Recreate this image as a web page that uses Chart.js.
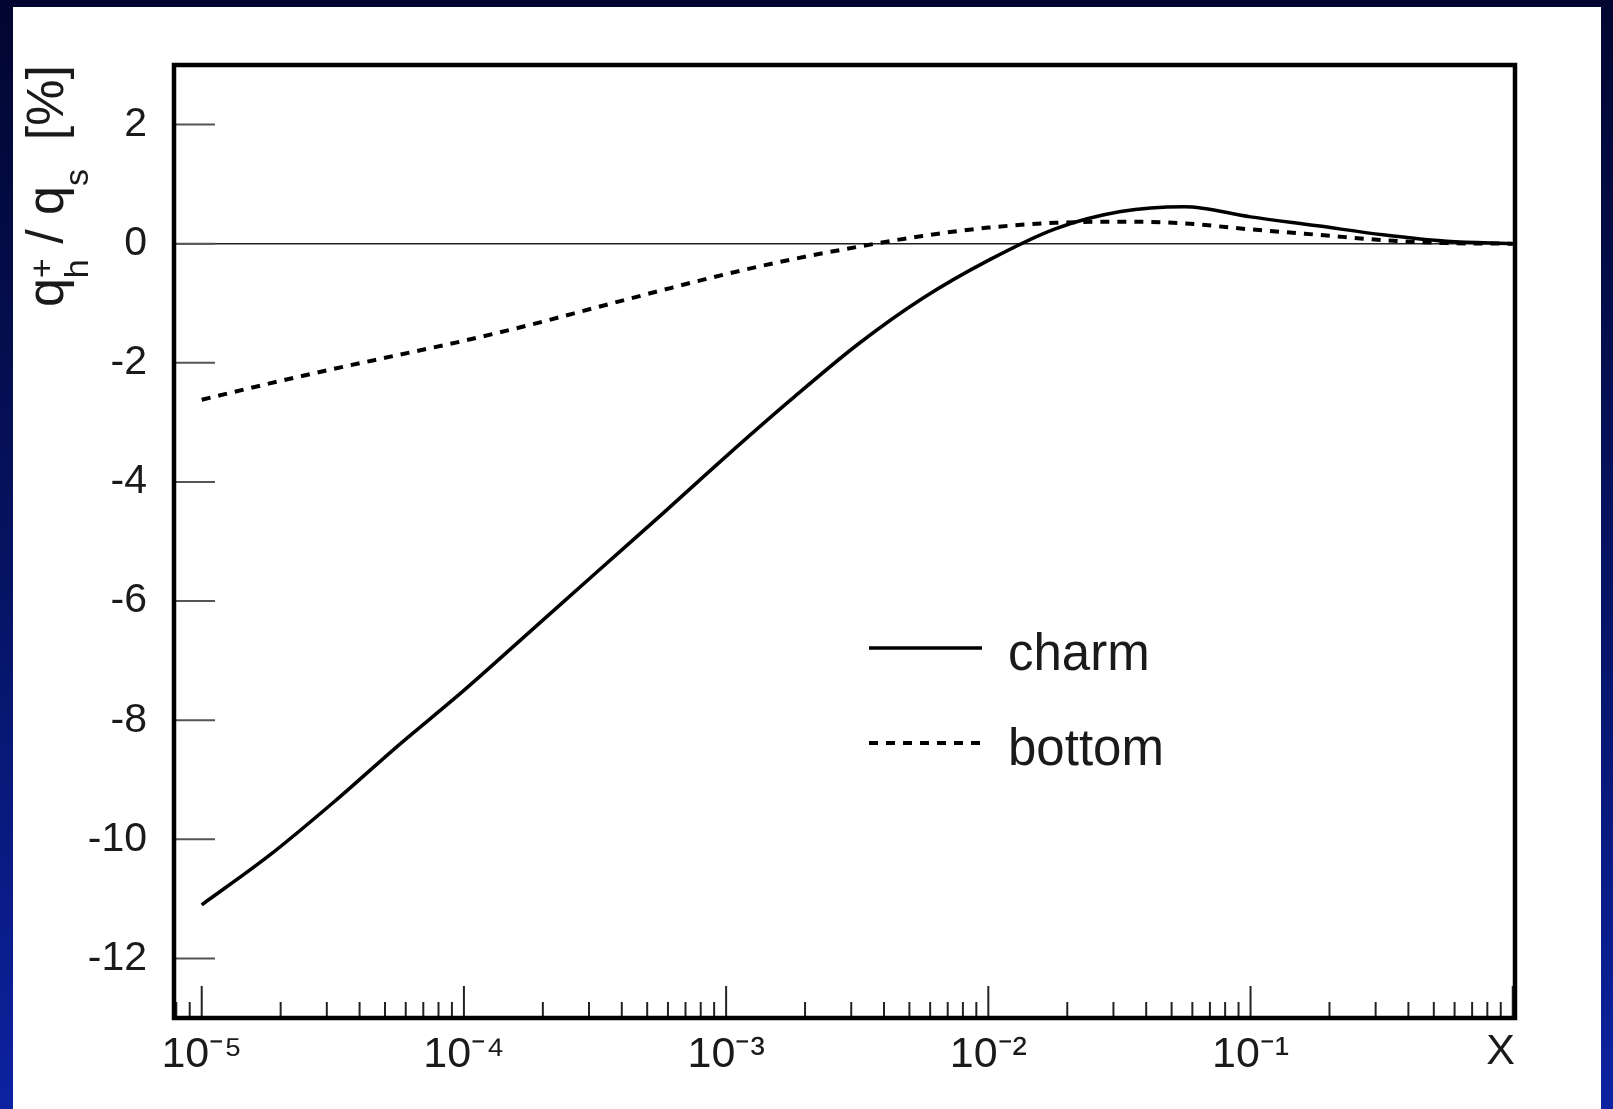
<!DOCTYPE html>
<html>
<head>
<meta charset="utf-8">
<script src="https://cdn.jsdelivr.net/npm/chart.js@4.4.1/dist/chart.umd.min.js"></script>
<style>
    html, body { margin: 0; padding: 0; }
    body {
        width: 1613px; height: 1109px; overflow: hidden; position: relative;
        background: linear-gradient(to bottom, #020630 0%, #061466 55%, #0c22a0 100%);
    }
    #panel { position: absolute; left: 13px; top: 7px; width: 1588px; height: 1102px; background: #fff; }
    #chart { display: block; }
</style>
</head>
<body>
<div id="panel"><canvas id="chart" width="1588" height="1102"></canvas></div>
<script>
// values
const xValues = [1e-5, 1.8e-5, 3.2e-5, 5.6e-5, 1e-4, 1.8e-4, 3.2e-4, 5.6e-4, 1e-3, 1.8e-3, 3.2e-3, 5.6e-3,
                 1e-2, 1.8e-2, 3.2e-2, 5.6e-2, 0.1, 0.18, 0.32, 0.56, 1.0];
const charmValues = [-11.1, -10.28, -9.37, -8.43, -7.5, -6.5, -5.52, -4.57, -3.57, -2.59, -1.68, -0.92,
                     -0.28, 0.25, 0.54, 0.62, 0.45, 0.30, 0.15, 0.04, 0.0];
const bottomValues = [-2.62, -2.35, -2.10, -1.87, -1.63, -1.36, -1.07, -0.79, -0.51, -0.26, -0.05, 0.13,
                      0.27, 0.35, 0.37, 0.34, 0.24, 0.15, 0.06, 0.01, 0.0];
const seriesNames = ['charm', 'bottom'];

const yTicks = [-12, -10, -8, -6, -4, -2, 0, 2];
const xTicks = [1e-5, 1e-4, 1e-3, 1e-2, 1e-1];
const xTickLabels = ['10⁻⁵', '10⁻⁴', '10⁻³', '10⁻²', '10⁻¹'];

var fontFamily = '"Liberation Sans", Arial, Helvetica, sans-serif';

function toPoints(values) {
    return values.map(function(v, i) { return { x: xValues[i], y: v }; });
}

// ticks drawn on the inside of the frame, then the frame itself
var frameTicks = {
    id: 'frameTicks',
    afterDatasetsDraw: function(chart) {
        var ctx = chart.ctx, a = chart.chartArea;
        var xs = chart.scales.x, ys = chart.scales.y;
        ctx.save();
        ctx.lineWidth = 2;
        ctx.strokeStyle = '#555';
        yTicks.forEach(function(v) {
            var py = ys.getPixelForValue(v);
            ctx.beginPath(); ctx.moveTo(a.left, py); ctx.lineTo(a.left + 41, py); ctx.stroke();
        });
        ctx.strokeStyle = '#222';
        for (var e = -6; e <= 0; e++) {
            for (var m = 1; m <= 9; m++) {
                var v = m * Math.pow(10, e);
                if (v < xs.min || v > xs.max) continue;
                var px = xs.getPixelForValue(v);
                var len = m === 1 ? 32 : 16;
                ctx.beginPath(); ctx.moveTo(px, a.bottom); ctx.lineTo(px, a.bottom - len); ctx.stroke();
            }
        }
        ctx.strokeStyle = '#000';
        ctx.lineWidth = 4.5;
        ctx.strokeRect(a.left, a.top, a.right - a.left, a.bottom - a.top);
        ctx.restore();
    }
};

// legend sitting inside the plot
var insideLegend = {
    id: 'insideLegend',
    afterDatasetsDraw: function(chart) {
        var ctx = chart.ctx, a = chart.chartArea;
        ctx.save();
        chart.data.datasets.forEach(function(ds, i) {
            var y = a.top + 583 + i * 95;
            ctx.strokeStyle = ds.borderColor;
            ctx.lineWidth = ds.borderWidth;
            ctx.setLineDash(ds.borderDash || []);
            ctx.beginPath(); ctx.moveTo(a.left + 695, y); ctx.lineTo(a.left + 808, y); ctx.stroke();
            ctx.setLineDash([]);
            ctx.fillStyle = '#1a1a1a';
            ctx.font = '51px ' + fontFamily;
            ctx.textBaseline = 'alphabetic';
            ctx.fillText(ds.label, a.left + 834, y + 22);
        });
        ctx.restore();
    }
};

// rotated y title with sub- and superscripts
var yTitle = {
    id: 'yTitle',
    afterDraw: function(chart) {
        var ctx = chart.ctx, a = chart.chartArea;
        var big = '52px ' + fontFamily, small = '34px ' + fontFamily;
        ctx.save();
        ctx.fillStyle = '#1a1a1a';
        ctx.font = big;
        var wq = ctx.measureText('q').width;
        var wSlash = ctx.measureText(' / ').width;
        var wTail = ctx.measureText('  [%]').width;
        ctx.font = small;
        var wStack = Math.max(ctx.measureText('h').width, ctx.measureText('+').width);
        var ws = ctx.measureText('s').width;
        var total = wq + wStack + wSlash + wq + ws + wTail;
        ctx.translate(50, a.top + total);
        ctx.rotate(-Math.PI / 2);
        ctx.textBaseline = 'alphabetic';
        var x = 0;
        ctx.font = big; ctx.fillText('q', x, 0); x += wq;
        ctx.font = small; ctx.fillText('+', x, -10); ctx.fillText('h', x, 25); x += wStack;
        ctx.font = big; ctx.fillText(' / ', x, 0); x += wSlash;
        ctx.fillText('q', x, 0); x += wq;
        ctx.font = small; ctx.fillText('s', x, 25); x += ws;
        ctx.font = big; ctx.fillText('  [%]', x, 0);
        ctx.restore();
    }
};

var ctx = document.getElementById('chart').getContext('2d');
var myChart = new Chart(ctx, {
    type: 'line',
    data: {
        datasets: [
            { label: seriesNames[0], data: toPoints(charmValues), borderColor: '#000', borderWidth: 3.5,
              cubicInterpolationMode: 'monotone' },
            { label: seriesNames[1], data: toPoints(bottomValues), borderColor: '#000', borderWidth: 4,
              borderDash: [9, 8], cubicInterpolationMode: 'monotone' }
        ]
    },
    options: {
        responsive: false,
        animation: false,
        layout: { padding: { left: 0, top: 58, right: 86, bottom: 0 } },
        elements: { point: { radius: 0 } },
        plugins: { legend: { display: false }, tooltip: { enabled: false } },
        scales: {
            x: {
                type: 'logarithmic',
                min: 7.84e-6,
                max: 1.02,
                grid: { display: false, drawTicks: false },
                border: { display: false },
                afterBuildTicks: function(scale) {
                    scale.ticks = xTicks.map(function(v) { return { value: v }; });
                },
                afterFit: function(scale) { scale.height = 91; },
                ticks: {
                    padding: 11,
                    color: '#1a1a1a',
                    maxRotation: 0,
                    autoSkip: false,
                    font: { size: 43, family: fontFamily },
                    callback: function(value) {
                        var i = xTicks.indexOf(value);
                        return i >= 0 ? xTickLabels[i] : '';
                    }
                },
                title: {
                    display: true,
                    text: 'X',
                    align: 'end',
                    color: '#1a1a1a',
                    font: { size: 43, family: fontFamily },
                    padding: { top: 0, bottom: 31 }
                }
            },
            y: {
                min: -13,
                max: 3,
                afterBuildTicks: function(scale) {
                    scale.ticks = yTicks.map(function(v) { return { value: v }; });
                },
                afterFit: function(scale) { scale.width = 161; },
                grid: {
                    drawTicks: false,
                    lineWidth: 1.5,
                    color: function(c) { return c.tick && c.tick.value === 0 ? '#222' : 'rgba(0,0,0,0)'; }
                },
                border: { display: false },
                ticks: {
                    padding: 27,
                    color: '#1a1a1a',
                    font: { size: 41, family: fontFamily }
                }
            }
        }
    },
    plugins: [frameTicks, insideLegend, yTitle]
});
</script>
</body>
</html>
